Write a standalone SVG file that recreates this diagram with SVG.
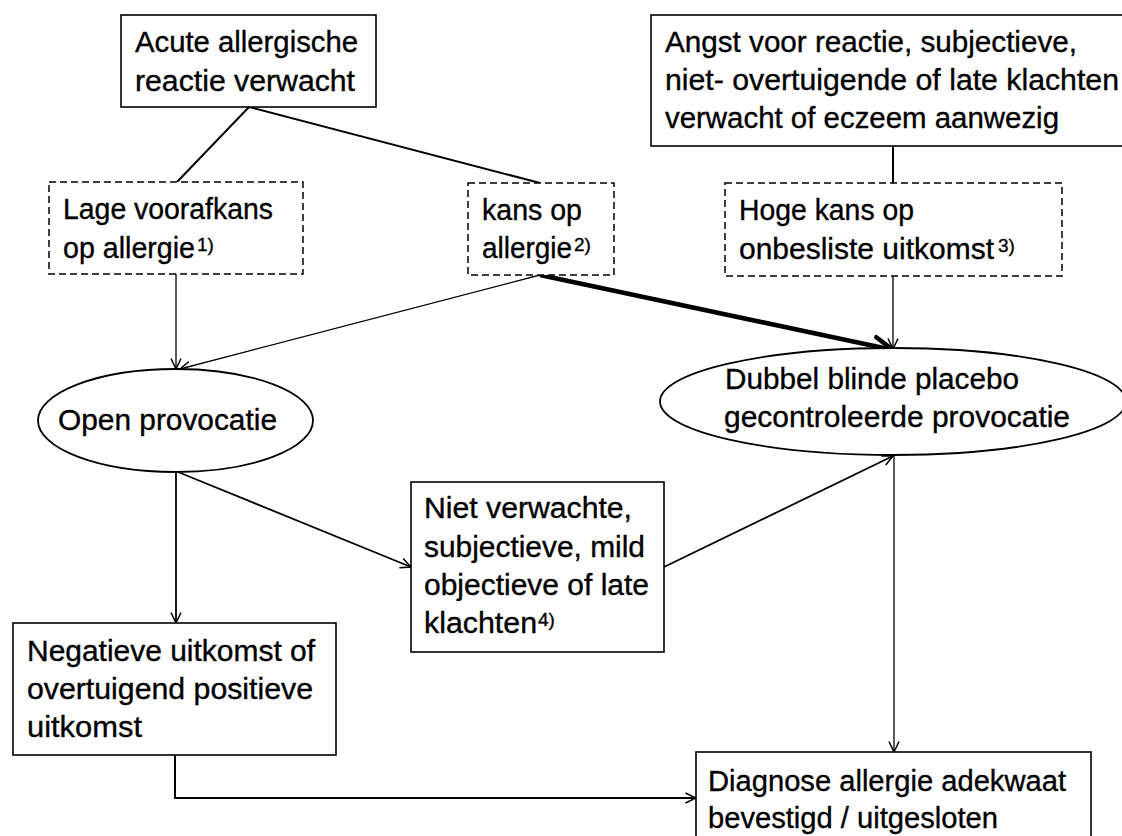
<svg xmlns="http://www.w3.org/2000/svg" width="1122" height="836" viewBox="0 0 1122 836">
<style>
text{font-family:"Liberation Sans",Arial,sans-serif;font-size:29px;fill:#000;stroke:#000;stroke-width:0.35}
.sup{font-size:19px}
.box{fill:#fff;stroke:#000;stroke-width:1.6}
.dash{fill:#fff;stroke:#000;stroke-width:1.5;stroke-dasharray:7 4}
.ell{fill:#fff;stroke:#000;stroke-width:1.8}
.ln{fill:none;stroke:#000;stroke-width:2}
.thin{fill:none;stroke:#000;stroke-width:1.3}
.mid{fill:none;stroke:#000;stroke-width:1.8}
.thick{fill:none;stroke:#000;stroke-width:4.5}
</style>
<defs>
<marker id="arr" viewBox="0 0 12 12" markerWidth="12" markerHeight="12" refX="11.5" refY="6" orient="auto" markerUnits="userSpaceOnUse">
<path d="M1,1 L11.5,6 L1,11" fill="none" stroke="#000" stroke-width="1.5"/>
</marker>
<marker id="arrT" viewBox="0 0 26 24" markerWidth="26" markerHeight="24" refX="22" refY="12" orient="auto" markerUnits="userSpaceOnUse">
<path d="M3,3 L22,12 L3,21" fill="none" stroke="#000" stroke-width="4.5" stroke-linecap="round"/>
</marker>
</defs>
<rect width="1122" height="836" fill="#fff"/>

<g id="connectors">
<path class="ln" d="M249,107 L177,182"/>
<path class="ln" d="M249,107 L540,183"/>
<path class="ln" d="M893,146 L893,183"/>
<path class="thin" d="M176,274 L176,369" marker-end="url(#arr)"/>
<path class="thin" d="M540,275 L180,369" marker-end="url(#arr)"/>
<path class="thick" d="M540,275 L893,350" marker-end="url(#arrT)"/>
<path class="thin" d="M893,276 L893,349" marker-end="url(#arr)"/>
<path class="mid" d="M178,472 L411,567" marker-end="url(#arr)"/>
<path class="mid" d="M664,567 L893,456" marker-end="url(#arr)"/>
<path class="mid" d="M176,472 L176,623" marker-end="url(#arr)"/>
<path class="thin" d="M894,456 L894,752" marker-end="url(#arr)"/>
<path class="ln" d="M175,755 L175,798 L696,798" marker-end="url(#arr)"/>
</g>

<g id="acute">
<rect class="box" x="121" y="15" width="255" height="92"/>
<text x="135" y="52" textLength="223" lengthAdjust="spacingAndGlyphs">Acute allergische</text>
<text x="135" y="91" textLength="220" lengthAdjust="spacingAndGlyphs">reactie verwacht</text>
</g>

<g id="lage">
<rect class="dash" x="49" y="182" width="254" height="92"/>
<text x="63" y="219" textLength="210" lengthAdjust="spacingAndGlyphs">Lage voorafkans</text>
<text x="63" y="258"><tspan textLength="132" lengthAdjust="spacingAndGlyphs">op allergie</tspan><tspan class="sup" x="197" y="251">1)</tspan></text>
</g>

<g id="kans">
<rect class="dash" x="468" y="183" width="146" height="92"/>
<text x="482" y="220" textLength="100" lengthAdjust="spacingAndGlyphs">kans op</text>
<text x="482" y="258"><tspan textLength="90" lengthAdjust="spacingAndGlyphs">allergie</tspan><tspan class="sup" x="574" y="251">2)</tspan></text>
</g>

<g id="angst">
<rect class="box" x="651" y="15" width="480" height="131"/>
<text x="665" y="52" textLength="412" lengthAdjust="spacingAndGlyphs">Angst voor reactie, subjectieve,</text>
<text x="665" y="90" textLength="454" lengthAdjust="spacingAndGlyphs">niet- overtuigende of late klachten</text>
<text x="665" y="128" textLength="394" lengthAdjust="spacingAndGlyphs">verwacht of eczeem aanwezig</text>
</g>

<g id="hoge">
<rect class="dash" x="725" y="183" width="337" height="93"/>
<text x="739" y="220" textLength="175" lengthAdjust="spacingAndGlyphs">Hoge kans op</text>
<text x="739" y="259"><tspan textLength="255" lengthAdjust="spacingAndGlyphs">onbesliste uitkomst</tspan><tspan class="sup" x="998" y="252">3)</tspan></text>
</g>

<g id="open">
<ellipse class="ell" cx="175.5" cy="420.5" rx="137.5" ry="51.5"/>
<text x="58" y="430" textLength="219" lengthAdjust="spacingAndGlyphs">Open provocatie</text>
</g>

<g id="dbpc">
<ellipse class="ell" cx="893" cy="401.5" rx="233" ry="53.5"/>
<text x="725" y="389" textLength="294" lengthAdjust="spacingAndGlyphs">Dubbel blinde placebo</text>
<text x="724" y="427" textLength="346" lengthAdjust="spacingAndGlyphs">gecontroleerde provocatie</text>
</g>

<g id="niet">
<rect class="box" x="411" y="482" width="253" height="170"/>
<text x="424" y="518" textLength="208" lengthAdjust="spacingAndGlyphs">Niet verwachte,</text>
<text x="424" y="557" textLength="221" lengthAdjust="spacingAndGlyphs">subjectieve, mild</text>
<text x="424" y="595" textLength="225" lengthAdjust="spacingAndGlyphs">objectieve of late</text>
<text x="424" y="633"><tspan textLength="113" lengthAdjust="spacingAndGlyphs">klachten</tspan><tspan class="sup" x="538" y="626">4)</tspan></text>
</g>

<g id="negatief">
<rect class="box" x="13" y="623" width="323" height="132"/>
<text x="27" y="661" textLength="288" lengthAdjust="spacingAndGlyphs">Negatieve uitkomst of</text>
<text x="27" y="699" textLength="286" lengthAdjust="spacingAndGlyphs">overtuigend positieve</text>
<text x="27" y="737" textLength="115" lengthAdjust="spacingAndGlyphs">uitkomst</text>
</g>

<g id="diagnose">
<rect class="box" x="696" y="752" width="395" height="100"/>
<text x="708" y="791" textLength="358" lengthAdjust="spacingAndGlyphs">Diagnose allergie adekwaat</text>
<text x="708" y="828" textLength="290" lengthAdjust="spacingAndGlyphs">bevestigd / uitgesloten</text>
</g>
</svg>
